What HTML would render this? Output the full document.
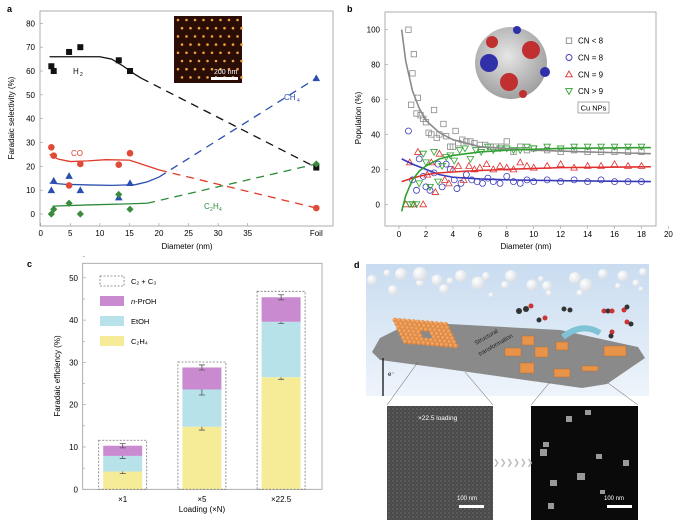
<!DOCTYPE html>
<html><head><meta charset="utf-8"><style>
body{margin:0;background:#fff;}
svg{display:block;font-family:"Liberation Sans",sans-serif;}
</style></head><body>
<svg id="fig" width="680" height="520" viewBox="0 0 680 520">
<defs>
<linearGradient id="sky" x1="0" y1="0" x2="0" y2="1"><stop offset="0" stop-color="#c9dcf0"/><stop offset="1" stop-color="#eef4fb"/></linearGradient>
<radialGradient id="bub" cx="0.35" cy="0.35" r="0.7"><stop offset="0" stop-color="#fff"/><stop offset="1" stop-color="#d8dde3"/></radialGradient>
<radialGradient id="sph" cx="0.45" cy="0.4" r="0.65"><stop offset="0" stop-color="#e6e6e6"/><stop offset="1" stop-color="#9a9a9a"/></radialGradient>
<radialGradient id="ball" cx="0.35" cy="0.35" r="0.7"><stop offset="0" stop-color="#f8b070"/><stop offset="1" stop-color="#d87a30"/></radialGradient>
<pattern id="grain" width="4" height="4" patternUnits="userSpaceOnUse"><rect width="4" height="4" fill="#4a4a4a"/><circle cx="1" cy="1" r="0.8" fill="#707070"/><circle cx="3" cy="3" r="0.6" fill="#5e5e5e"/></pattern>
</defs>
<text x="7" y="12" font-size="9" font-weight="bold">a</text>
<text x="347" y="12" font-size="9" font-weight="bold">b</text>
<text x="27" y="267" font-size="9" font-weight="bold">c</text>
<text x="354" y="268" font-size="9" font-weight="bold">d</text>
<g id="pa"></g>
<g id="pb"></g>
<g id="pc"></g>
<g id="pd">
 <rect x="366" y="264" width="283" height="132" fill="url(#sky)"/>
 <g fill="url(#bub)">
  <circle cx="372" cy="280" r="5"/><circle cx="387" cy="273" r="3.5"/><circle cx="401" cy="274" r="6"/><circle cx="393" cy="290" r="5"/><circle cx="420" cy="283" r="4"/><circle cx="420" cy="274" r="7"/><circle cx="437" cy="280" r="5.5"/><circle cx="444" cy="289" r="5"/><circle cx="450" cy="281" r="3.5"/><circle cx="461" cy="276" r="6"/><circle cx="478" cy="283" r="6.5"/><circle cx="486" cy="276" r="4"/><circle cx="491" cy="295" r="2.5"/><circle cx="505" cy="285" r="4"/><circle cx="511" cy="276" r="6"/><circle cx="532" cy="285" r="5.5"/><circle cx="541" cy="279" r="3"/><circle cx="547" cy="286" r="5"/><circle cx="549" cy="293" r="3"/><circle cx="575" cy="278" r="6"/><circle cx="586" cy="285" r="6.5"/><circle cx="580" cy="293" r="3.5"/><circle cx="603" cy="274" r="5"/><circle cx="623" cy="276" r="5.5"/><circle cx="618" cy="286" r="3"/><circle cx="636" cy="283" r="3.5"/><circle cx="643" cy="272" r="4"/><circle cx="641" cy="289" r="2.5"/>
 </g>
 <polygon points="372,352 380,338 412,322 560,330 638,347 645,358 607,384 582,388 440,368 380,360" fill="#8a8a8a"/>
 <g id="balls"></g>
 <g fill="#e8934a" stroke="#b8642a" stroke-width="0.4">
  <rect x="505" y="348" width="16" height="8"/><rect x="522" y="336" width="12" height="9"/><rect x="535" y="347" width="13" height="10"/><rect x="556" y="342" width="12" height="8"/><rect x="520" y="363" width="14" height="10"/><rect x="554" y="369" width="16" height="8"/><rect x="582" y="366" width="16" height="5"/><rect x="604" y="346" width="22" height="10"/>
 </g>
 <path d="M563 337 Q582 322 600 333" stroke="#7ec3d6" stroke-width="6" fill="none"/>
 <g>
  <circle cx="519" cy="311" r="3" fill="#333"/><circle cx="526" cy="309" r="3" fill="#333"/><circle cx="531" cy="306" r="2.5" fill="#c33"/>
  <circle cx="539" cy="320" r="2.5" fill="#333"/><circle cx="545" cy="318" r="2.5" fill="#c33"/>
  <circle cx="564" cy="309" r="2.5" fill="#333"/><circle cx="570" cy="310" r="2.5" fill="#333"/>
  <circle cx="604" cy="311" r="2.5" fill="#c33"/><circle cx="608" cy="311" r="2.5" fill="#333"/><circle cx="612" cy="311" r="2.5" fill="#c33"/>
  <circle cx="624" cy="310" r="2.5" fill="#c33"/><circle cx="627" cy="307" r="2.5" fill="#333"/>
  <circle cx="627" cy="322" r="2.5" fill="#c33"/><circle cx="631" cy="324" r="2.5" fill="#333"/>
  <circle cx="612" cy="332" r="2.5" fill="#c33"/><circle cx="611" cy="336" r="2.5" fill="#333"/>
 </g>
 <text font-size="6" fill="#222" transform="translate(476,345) rotate(-30)">Structural</text>
 <text font-size="6" fill="#222" transform="translate(480,356) rotate(-30)">transformation</text>
 <line x1="383" y1="358" x2="383" y2="396" stroke="#111" stroke-width="1.3"/>
 <text x="388" y="376" font-size="6">e⁻</text>
 <line x1="418" y1="362" x2="387" y2="405" stroke="#555" stroke-width="0.5"/><line x1="465" y1="372" x2="493" y2="405" stroke="#555" stroke-width="0.5"/>
 <line x1="550" y1="382" x2="531" y2="405" stroke="#555" stroke-width="0.5"/><line x1="608" y1="383" x2="638" y2="405" stroke="#555" stroke-width="0.5"/>
 <rect x="387" y="406" width="106" height="114" fill="url(#grain)"/>
 <text x="418" y="420" font-size="6.5" fill="#fff">×22.5 loading</text>
 <text x="457" y="500" font-size="6" fill="#fff">100 nm</text>
 <rect x="459" y="505" width="25" height="3" fill="#fff"/>
 <rect x="531" y="406" width="107" height="114" fill="#0a0a0a"/>
 <g fill="#999"><rect x="585" y="410" width="6" height="5"/><rect x="566" y="416" width="6" height="6"/><rect x="543" y="442" width="6" height="5"/><rect x="540" y="449" width="7" height="7"/><rect x="596" y="454" width="6" height="5"/><rect x="623" y="460" width="6" height="6"/><rect x="550" y="480" width="7" height="6"/><rect x="577" y="473" width="8" height="7"/><rect x="600" y="490" width="5" height="4"/><rect x="548" y="503" width="6" height="6"/></g>
 <text x="604" y="500" font-size="6" fill="#fff">100 nm</text>
 <rect x="607" y="505" width="25" height="3" fill="#fff"/>
 <text x="493" y="465" font-size="8" fill="#bbb">❯❯❯❯❯❯</text>
</g>
</svg>
<script>
const NS='http://www.w3.org/2000/svg';
function mk(p,tag,at){const e=document.createElementNS(NS,tag);for(const k in at)e.setAttribute(k,at[k]);p.appendChild(e);return e;}
function tx(p,x,y,s,fs,anchor,extra){const e=mk(p,'text',Object.assign({x:x,y:y,'font-size':fs,'text-anchor':anchor||'middle'},extra||{}));e.textContent=s;return e;}

/* decorative ball array in panel d */
const balls=document.getElementById('balls');
for(let r=0;r<7;r++)for(let c=0;c<12;c++){
 if(r>=3&&r<=4&&c>=5&&c<=6)continue;
 mk(balls,'circle',{cx:395+c*4.6+r*2.2-r*0.5,cy:320+r*3.6+c*0.4,r:2.4,fill:'url(#ball)'});
}

/* ---------- Panel a data ---------- */
const aX=[1.8,2.2,4.8,6.7,13.2,15.1,46.6];
const aH2=[62,60,68,70,64.5,60,19.5];
const aCO=[28,24.5,12,21,20.7,25.5,2.5];
const aCH4=[10,14,16,10,7,13,57];
const aC2H4=[0,2,4.5,0,8.2,2,21];
const aXTicks=[0,5,10,15,20,25,30,35];
const aYTicks=[0,10,20,30,40,50,60,70,80];
const fitH2x=[1.5,5,10,12,14,16,17], fitH2y=[66,66,66,65,62,58.5,57];
const fitCOx=[1.5,3,5,8,11,15,17,20], fitCOy=[25,23,22,22.3,22.8,22.6,21,18.5];
const fitCH4x=[1.5,4,8,12,16,18,20], fitCH4y=[13,12.5,12.2,12,12.3,13.5,15.5];
const fitC2H4x=[2,8,14,18], fitC2H4y=[3.3,3.8,4.2,4.5];

const ax=v=>40.7+v*5.914, ay=v=>214-v*2.383;
const pa=document.getElementById('pa');
let el=mk(pa,'rect',{x:40,y:11,width:293,height:215,fill:'none',stroke:'#999','stroke-width':0.8});


aYTicks.forEach(t=>{mk(pa,'line',{x1:40,x2:43,y1:ay(t),y2:ay(t),stroke:'#999','stroke-width':0.6});
 el=tx(pa,35,ay(t)+3,t,8,'end');
 
 });
aXTicks.forEach(t=>{mk(pa,'line',{x1:ax(t),x2:ax(t),y1:226,y2:223,stroke:'#999','stroke-width':0.6});
 el=tx(pa,ax(t),236,t,8);
 
 });
el=tx(pa,ax(46.6),236,'Foil',8);


el=tx(pa,187,249,'Diameter (nm)',8);


el=tx(pa,0,0,'Faradaic selectivity (%)',8,'middle',{transform:'translate(14,118) rotate(-90)'});


function fitLine(fx,fy,endY,col,name){
 el=mk(pa,'polyline',{points:fx.map((x,i)=>ax(x)+','+ay(fy[i])).join(' '),fill:'none',stroke:col,'stroke-width':1.3});
 
 
 const lx=fx[fx.length-1],ly=fy[fy.length-1];
 el=mk(pa,'line',{x1:ax(lx),y1:ay(ly),x2:ax(46.6),y2:ay(endY),stroke:col,'stroke-width':1.3,'stroke-dasharray':'8,6'});
 
 
}
fitLine(fitH2x,fitH2y,aH2[6],'#111','h2');
fitLine(fitCOx,fitCOy,aCO[6],'#e03a2a','co');
fitLine(fitCH4x,fitCH4y,aCH4[6],'#2a4fb0','ch4');
fitLine(fitC2H4x,fitC2H4y,aC2H4[6],'#2e8a3a','c2h4');
aX.forEach((x,i)=>{
 const X=ax(x);
 el=mk(pa,'rect',{x:X-3,y:ay(aH2[i])-3,width:6,height:6,fill:'#111'});
 
 
 el=mk(pa,'circle',{cx:X,cy:ay(aCO[i]),r:3.3,fill:'#e04a38'});
 
 
 let Y=ay(aCH4[i]);
 el=mk(pa,'polygon',{points:`${X},${Y-3.8} ${X-3.8},${Y+3} ${X+3.8},${Y+3}`,fill:'#2a4fb0'});
 
 
 Y=ay(aC2H4[i]);
 el=mk(pa,'polygon',{points:`${X},${Y-3.6} ${X-3.6},${Y} ${X},${Y+3.6} ${X+3.6},${Y}`,fill:'#3b8a3e'});
 
 
});
tx(pa,73,74,'H',8,'start',{fill:'#111'});tx(pa,80,76,'2',5,'start');
tx(pa,71,156,'CO',8,'start',{fill:'#e03a2a'});
tx(pa,284,100,'CH',8,'start',{fill:'#2a4fb0'});tx(pa,297,102,'4',5,'start',{fill:'#2a4fb0'});
tx(pa,204,209,'C',8,'start',{fill:'#2e8a3a'});tx(pa,210,211,'2',5,'start',{fill:'#2e8a3a'});tx(pa,213,209,'H',8,'start',{fill:'#2e8a3a'});tx(pa,219,211,'4',5,'start',{fill:'#2e8a3a'});
el=mk(pa,'rect',{x:174,y:16,width:68,height:67,fill:'#2a0e06'});


for(let r=0;r<8;r++)for(let c=0;c<8;c++)mk(pa,'circle',{cx:178+c*8.5+(r%2)*4,cy:20+r*8.2,r:1.3,fill:'#f0a040'});
tx(pa,214,74,'200 nm',7,'start',{fill:'#fff'});
mk(pa,'rect',{x:211,y:77,width:27,height:3,fill:'#fff'});

/* ---------- Panel b data ---------- */
const bGrayX=[0.7,0.9,1.0,1.1,1.3,1.4,1.6,1.8,2.0,2.2,2.4,2.6,2.8,3.0,3.3,3.5,3.8,4.0,4.2,4.4,4.7,5.0,5.3,5.6,6.0,6.4,6.8,7.2,7.6,8.0,8.5,9,9.5,10,11,12,13,14,15,16,17,18];
const bGrayY=[100,57,75,86,52,61,51,49,47,41,40,54,38,40,46,39,33,33,42,35,37,36,36,35,34,34,33,33,33,36,30,33,31,32,31,30,31,30,30,30,30,30];
const bBlueX=[0.7,1.0,1.3,1.5,1.8,2.0,2.3,2.6,2.9,3.2,3.5,3.8,4.1,4.3,4.6,5,5.4,5.8,6.2,6.6,7,7.5,8,8.5,9,9.5,10,11,12,13,14,15,16,17,18];
const bBlueY=[42,14,8,26,16,10,8,18,23,10,23,20,14,9,12,17,14,13,12,15,13,12,16,13,12,14,13,14,13,14,13,14,13,13,13];
const bRedX=[0.5,0.8,1.1,1.4,1.8,2.1,2.4,2.7,3.0,3.4,3.7,4.0,4.4,4.8,5.2,5.6,6,6.5,7,7.5,8,8.5,9,9.5,10,11,12,13,14,15,16,17,18];
const bRedY=[0,24,0,30,0,17,24,7,29,14,12,20,22,14,22,20,21,23,20,22,21,20,24,22,21,22,23,21,22,22,23,22,22];
const bGreenX=[0.8,1.0,1.3,1.5,1.8,2.0,2.3,2.6,2.9,3.2,3.5,3.8,4.1,4.5,4.9,5.3,5.7,6.1,6.6,7,7.5,8,8.5,9,9.5,10,11,12,13,14,15,16,17,18];
const bGreenY=[0,0,0,12,29,24,10,30,13,22,27,28,25,31,32,26,31,30,33,31,32,32,31,31,33,32,33,32,33,33,33,33,33,33];
const bFitGrayX=[0.2,0.5,1,1.5,2,3,4,6,8,10,14,18.7], bFitGrayY=[100,82,65,55,48,41,37,33,32,31,30,29];
const bFitBlueX=[0.2,1,2,3,4,6,8,12,18.7], bFitBlueY=[26,23,20,17,15.5,14.5,14,13.5,13];
const bFitRedX=[0.2,1,2,3,5,8,12,18.7], bFitRedY=[13,15,17,18,19,20,21,21.5];
const bFitGreenX=[0.2,0.5,1,1.5,2,3,4,6,8,12,18.7], bFitGreenY=[-4,5,14,19,22,26,28,30,31,32,32.5];
const bXTicks=[0,2,4,6,8,10,12,14,16,18,20];
const bYTicks=[0,20,40,60,80,100];

const bx=v=>399+v*13.47, by=v=>204.3-v*1.746;
const pb=document.getElementById('pb');
el=mk(pb,'rect',{x:385,y:12,width:271,height:214,fill:'none',stroke:'#999','stroke-width':0.8});


bYTicks.forEach(t=>{mk(pb,'line',{x1:385,x2:388,y1:by(t),y2:by(t),stroke:'#999','stroke-width':0.6});
 el=tx(pb,380,by(t)+3,t,8,'end');
 
 });
bXTicks.forEach(t=>{mk(pb,'line',{x1:bx(t),x2:bx(t),y1:226,y2:229,stroke:'#999','stroke-width':0.6});
 el=tx(pb,bx(t),237,t,8);
 
 });
el=tx(pb,526,249,'Diameter (nm)',8);


el=tx(pb,0,0,'Population (%)',8,'middle',{transform:'translate(361,118) rotate(-90)'});


function bMarks(xs,ys,col,shape,name){
 xs.forEach((x,i)=>{const X=bx(x),Y=by(ys[i]);let e;
  if(shape==='sq')e=mk(pb,'rect',{x:X-2.7,y:Y-2.7,width:5.4,height:5.4,fill:'none',stroke:col,'stroke-width':0.8});
  else if(shape==='ci')e=mk(pb,'circle',{cx:X,cy:Y,r:3,fill:'none',stroke:col,'stroke-width':0.8});
  else if(shape==='up')e=mk(pb,'polygon',{points:`${X},${Y-3.3} ${X-3.3},${Y+2.5} ${X+3.3},${Y+2.5}`,fill:'none',stroke:col,'stroke-width':0.8});
  else e=mk(pb,'polygon',{points:`${X},${Y+3.3} ${X-3.3},${Y-2.5} ${X+3.3},${Y-2.5}`,fill:'none',stroke:col,'stroke-width':0.8});
  
  });
}
bMarks(bGrayX,bGrayY,'#8a8a8a','sq','cn-lt8-point');
bMarks(bBlueX,bBlueY,'#3a3ab8','ci','cn-8-point');
bMarks(bRedX,bRedY,'#e03030','up','cn-9-point');
bMarks(bGreenX,bGreenY,'#30a030','dn','cn-gt9-point');
function bFit(fx,fy,col,name){
 el=mk(pb,'polyline',{points:fx.map((x,i)=>bx(x)+','+by(fy[i])).join(' '),fill:'none',stroke:col,'stroke-width':1.6,'stroke-linejoin':'round'});
 
 
}
bFit(bFitGrayX,bFitGrayY,'#8a8a8a','cn-lt8-fit');
bFit(bFitBlueX,bFitBlueY,'#3a3ab8','cn-8-fit');
bFit(bFitRedX,bFitRedY,'#e03030','cn-9-fit');
bFit(bFitGreenX,bFitGreenY,'#30a030','cn-gt9-fit');
el=mk(pb,'circle',{cx:511,cy:63,r:36,fill:'url(#sph)'});


[[489,63,'#3030a8',9],[531,50,'#c03030',9],[509,82,'#c03030',9],[545,72,'#3030a8',5],[492,42,'#c03030',6],[517,30,'#3030a8',4],[523,94,'#c03030',4]].forEach(f=>mk(pb,'circle',{cx:f[0],cy:f[1],r:f[3],fill:f[2]}));
const legB=[['CN < 8','#8a8a8a','sq'],['CN = 8','#3a3ab8','ci'],['CN = 9','#e03030','up'],['CN > 9','#30a030','dn']];
legB.forEach((l,i)=>{const Y=40.7+i*16.8;const X=569;let e;
 if(l[2]==='sq')e=mk(pb,'rect',{x:X-2.7,y:Y-2.7,width:5.4,height:5.4,fill:'none',stroke:l[1],'stroke-width':0.9});
 else if(l[2]==='ci')e=mk(pb,'circle',{cx:X,cy:Y,r:3,fill:'none',stroke:l[1],'stroke-width':0.9});
 else if(l[2]==='up')e=mk(pb,'polygon',{points:`${X},${Y-3.3} ${X-3.3},${Y+2.5} ${X+3.3},${Y+2.5}`,fill:'none',stroke:l[1],'stroke-width':0.9});
 else e=mk(pb,'polygon',{points:`${X},${Y+3.3} ${X-3.3},${Y-2.5} ${X+3.3},${Y-2.5}`,fill:'none',stroke:l[1],'stroke-width':0.9});
 
 
 const t=tx(pb,578,Y+3,l[0],8,'start');
 
 });
el=mk(pb,'rect',{x:578,y:102,width:31,height:11,fill:'none',stroke:'#888','stroke-width':0.7});


tx(pb,593.5,110.5,'Cu NPs',7.5);

/* ---------- Panel c data ---------- */
const cCats=['×1','×5','×22.5'];
const cC2H4=[4.2,14.8,26.5];
const cEtOH=[3.7,8.8,13.1];
const cPrOH=[2.4,5.2,5.8];
const cTotal=[11.6,30.1,46.8];
const cErr=[[0.5,0.6,0.5],[0.8,1.3,0.6],[0.5,0.4,0.6]];
const cYTicks=[0,10,20,30,40,50];

const cy=v=>489.3-v*4.23;
const cxC=i=>122.7+i*79.2;
const pc=document.getElementById('pc');
el=mk(pc,'rect',{x:82.7,y:263.3,width:239.3,height:226,fill:'none',stroke:'#999','stroke-width':0.8});


cYTicks.forEach(t=>{mk(pc,'line',{x1:82.7,x2:86,y1:cy(t),y2:cy(t),stroke:'#999','stroke-width':0.6});
 mk(pc,'line',{x1:82.7,x2:85,y1:cy(t+5),y2:cy(t+5),stroke:'#999','stroke-width':0.6});
 el=tx(pc,78,cy(t)+3,t,8,'end');
 
 });
el=tx(pc,0,0,'Faradaic efficiency (%)',8,'middle',{transform:'translate(60,376) rotate(-90)'});


el=tx(pc,202,512,'Loading (×N)',8);


cCats.forEach((c,i)=>{const X=cxC(i),w=39;
 let b0=0;
 [[cC2H4[i],'#f6ec98','c2h4-bar'],[cEtOH[i],'#b7e2ea','etoh-bar'],[cPrOH[i],'#c98ad0','nproh-bar']].forEach((s,k)=>{
  const top=b0+s[0];
  const r=mk(pc,'rect',{x:X-w/2,y:cy(top),width:w,height:cy(b0)-cy(top),fill:s[1]});
  
  
  const e=cErr[i][k];
  mk(pc,'path',{d:`M${X} ${cy(top-e)}V${cy(top+e)}M${X-3} ${cy(top-e)}H${X+3}M${X-3} ${cy(top+e)}H${X+3}`,stroke:'#555','stroke-width':0.8,fill:'none'});
  b0=top;});
 const d=mk(pc,'rect',{x:X-24,y:cy(cTotal[i]),width:48,height:cy(0)-cy(cTotal[i]),fill:'none',stroke:'#777','stroke-width':0.8,'stroke-dasharray':'2,1.5'});
 
 
 const t=tx(pc,X,502,c,8);
 
 });
const legC=[['C₂ + C₃','none'],['-PrOH','#c98ad0'],['EtOH','#b7e2ea'],['C₂H₄','#f6ec98']];
legC.forEach((l,i)=>{const Y=276+i*20;
 const r=mk(pc,'rect',{x:100,y:Y,width:24,height:10,fill:l[1]});
 if(i===0){r.setAttribute('stroke','#777');r.setAttribute('stroke-dasharray','2,1.5');r.setAttribute('stroke-width','0.8');}
 
 
 const t=tx(pc,131,Y+8,'',7.5,'start');
 if(i===1){const ts=mk(t,'tspan',{'font-style':'italic'});ts.textContent='n';}
 const ts2=mk(t,'tspan',{});ts2.textContent=l[0];
 
 });
</script>
</body></html>
